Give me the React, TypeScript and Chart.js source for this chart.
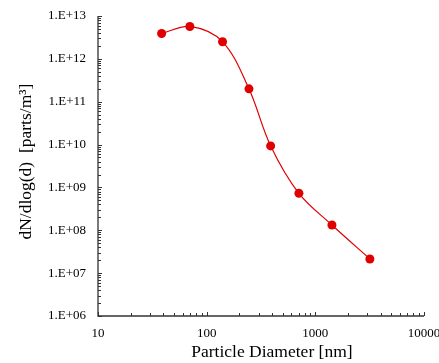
import React, { useEffect, useRef } from "react";
import { Chart, registerables } from "chart.js";

Chart.register(...registerables);

// Particle diameter [nm]
const diameters = [38.5, 70, 140, 245, 388, 706, 1422, 3177];
// dN/dlog(d) [parts/m^3]
const concentrations = [3.9e12, 5.7e12, 2.5e12, 2.0e11, 9.3e9, 7.3e8, 1.33e8, 2.14e7];
// Decade tick values
const xTickDecades = [10, 100, 1000, 10000];
const yTickDecades = [1e6, 1e7, 1e8, 1e9, 1e10, 1e11, 1e12, 1e13];

const xTitle = "     Particle Diameter [nm]";
const yTitle = "  dN/dlog(d)  [parts/m³]";

const FONT = "'Liberation Serif', 'Times New Roman', serif";
const RED = "#e00000";

function buildTicks(decades: number[]) {
  const out: { value: number; major: boolean }[] = [];
  for (let i = 0; i < decades.length; i++) {
    const d = decades[i];
    out.push({ value: d, major: true });
    if (i < decades.length - 1) {
      for (let m = 2; m <= 9; m++) out.push({ value: m * d, major: false });
    }
  }
  return out;
}

function isDecade(v: number) {
  const l = Math.log10(v);
  return Math.abs(l - Math.round(l)) < 1e-9;
}

const axesPlugin = {
  id: "axesTicks",
  beforeDatasetsDraw(chart: any) {
    const { ctx, chartArea, scales } = chart;
    const xs = scales.x;
    const ys = scales.y;
    ctx.save();
    ctx.strokeStyle = "#333";
    ctx.lineWidth = 1.3;
    ctx.beginPath();
    ctx.moveTo(chartArea.left, chartArea.top);
    ctx.lineTo(chartArea.left, chartArea.bottom);
    ctx.lineTo(chartArea.right, chartArea.bottom);
    ctx.stroke();
    ctx.lineWidth = 1;
    ctx.beginPath();
    xs.ticks.forEach((t: any) => {
      const px = Math.round(xs.getPixelForValue(t.value)) + 0.5;
      const len = isDecade(t.value) ? 4 : 3;
      ctx.moveTo(px, chartArea.bottom);
      ctx.lineTo(px, chartArea.bottom - len);
    });
    ys.ticks.forEach((t: any) => {
      const py = Math.round(ys.getPixelForValue(t.value)) + 0.5;
      const len = isDecade(t.value) ? 4 : 3;
      ctx.moveTo(chartArea.left, py);
      ctx.lineTo(chartArea.left + len, py);
    });
    ctx.stroke();
    ctx.restore();
  },
};

export default function App() {
  const canvasRef = useRef<HTMLCanvasElement | null>(null);

  useEffect(() => {
    const canvas = canvasRef.current;
    if (!canvas) return;
    const chart = new Chart(canvas, {
      type: "scatter",
      data: {
        datasets: [
          {
            data: diameters.map((d, i) => ({ x: d, y: concentrations[i] })),
            showLine: true,
            borderColor: RED,
            backgroundColor: RED,
            borderWidth: 1.2,
            pointRadius: 4.5,
            pointBackgroundColor: RED,
            pointBorderColor: RED,
            pointBorderWidth: 0,
            tension: 0.35,
          },
        ],
      },
      plugins: [axesPlugin],
      options: {
        responsive: false,
        animation: false,
        devicePixelRatio: 1,
        layout: { padding: { left: 0, right: 26, top: 16, bottom: 0 } },
        plugins: {
          legend: { display: false },
          tooltip: { enabled: false },
        },
        scales: {
          x: {
            type: "logarithmic",
            min: 10,
            max: 10000,
            afterBuildTicks: (scale: any) => {
              scale.ticks = buildTicks(xTickDecades);
            },
            afterFit: (scale: any) => {
              scale.height = 47;
              scale.paddingLeft = 0;
              scale.paddingRight = 0;
            },
            grid: { display: false, drawTicks: false },
            border: { display: false },
            ticks: {
              autoSkip: false,
              maxRotation: 0,
              minRotation: 0,
              padding: 10,
              color: "#000",
              font: { family: FONT, size: 13 },
              callback: (v: any) => (isDecade(Number(v)) ? String(Math.round(Number(v))) : ""),
            },
            title: {
              display: true,
              text: xTitle,
              color: "#000",
              font: { family: FONT, size: 17.5 },
              padding: { top: 0, bottom: 0 },
            },
          },
          y: {
            type: "logarithmic",
            min: 1e6,
            max: 1e13,
            afterBuildTicks: (scale: any) => {
              scale.ticks = buildTicks(yTickDecades);
            },
            afterFit: (scale: any) => {
              scale.width = 98;
              scale.paddingTop = 0;
              scale.paddingBottom = 0;
            },
            grid: { display: false, drawTicks: false },
            border: { display: false },
            ticks: {
              autoSkip: false,
              padding: 12,
              color: "#000",
              font: { family: FONT, size: 13 },
              callback: (v: any) => {
                const n = Number(v);
                if (!isDecade(n)) return "";
                const e = Math.round(Math.log10(n));
                return "1.E+" + (e < 10 ? "0" + e : String(e));
              },
            },
            title: {
              display: true,
              text: yTitle,
              color: "#000",
              font: { family: FONT, size: 17.5 },
              padding: { top: 15.5, bottom: 0 },
            },
          },
        },
      },
    } as any);
    return () => chart.destroy();
  }, []);

  return (
    <div
      style={{
        position: "fixed",
        left: 0,
        top: 0,
        width: 439,
        height: 363,
        overflow: "hidden",
        background: "#fff",
      }}
    >
      <canvas ref={canvasRef} width={450} height={363} style={{ width: 450, height: 363, display: "block" }} />
    </div>
  );
}
